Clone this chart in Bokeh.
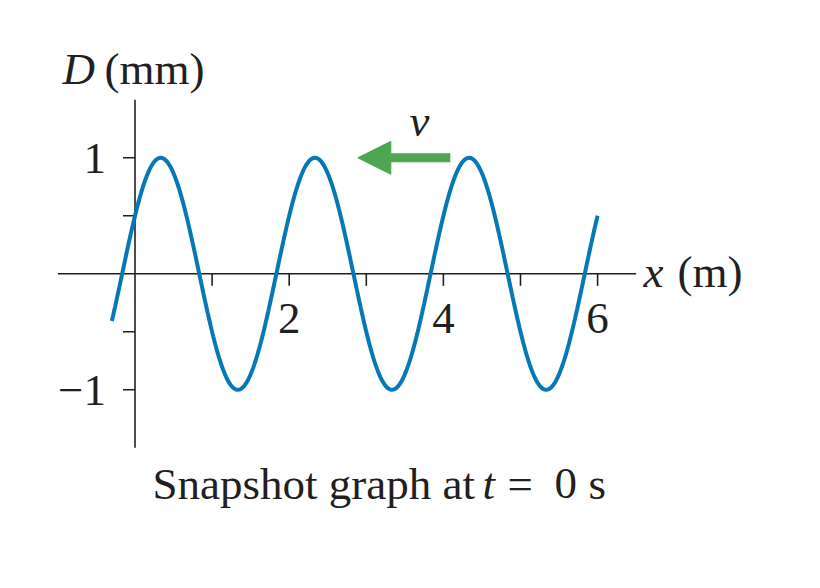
import numpy as np
from bokeh.plotting import figure
from bokeh.models import Range1d, Arrow, NormalHead
from bokeh.core.properties import value
from bokeh.embed import file_html
from bokeh.resources import INLINE

# ---- values ----
amplitude_mm = 1.0          # crests at +1, troughs at -1
wavelength_m = 2.0          # crest to crest: 0.33 -> 2.33 -> 4.33
d_at_origin_mm = 0.5        # curve rises through D = 0.5 at x = 0
x_start_m = -0.3
x_end_m = 6.0

x_ticks = [1, 2, 3, 4, 5, 6]
x_tick_labels = ["2", "4", "6"]
x_tick_label_pos = [2, 4, 6]
y_ticks = [-1, -0.5, 0.5, 1]
y_tick_labels = ["1", "\u22121"]
y_tick_label_pos = [1, -1]
x_axis_span = [-1.0, 6.5]
y_axis_span = [-1.5, 1.5]
velocity_arrow_x = [4.09, 2.89]   # tail, tip
velocity_arrow_d = 1.0

# ---- layout helpers (page pixels -> data) ----
W, H = 804, 572
ORIGIN = 0.0
X0_PX, SX = 134.5, 77.1
Y0_PX, SY = 273.3, 116.0
def px2x(px):
    return (px - X0_PX) / SX
def py2y(py):
    return (Y0_PX - py) / SY

BLUE = "#0678B5"
GREEN = "#4DA651"
INK = "#231F20"
SERIF = value("Liberation Serif")
FS = "45px"
DY = -14  # baseline correction

p = figure(width=W, height=H, output_backend="svg", toolbar_location=None,
           x_range=Range1d(px2x(ORIGIN), px2x(ORIGIN + W)),
           y_range=Range1d(py2y(ORIGIN + H), py2y(ORIGIN)),
           x_axis_location=None, y_axis_location=None, min_border=0)
p.grid.visible = False
p.outline_line_color = None
p.background_fill_color = "white"

# axes lines
p.segment(x0=[x_axis_span[0], 0], y0=[0, y_axis_span[0]],
          x1=[x_axis_span[1], 0], y1=[0, y_axis_span[1]],
          line_color=INK, line_width=1.6)
# ticks
p.ray(x=x_ticks, y=[0] * len(x_ticks), length=12, length_units="screen",
      angle=-np.pi / 2, line_color=INK, line_width=1.6)
p.ray(x=[0] * len(y_ticks), y=y_ticks, length=12, length_units="screen",
      angle=np.pi, line_color=INK, line_width=1.6)

# wave
phase = np.arcsin(d_at_origin_mm / amplitude_mm)
xs = np.linspace(x_start_m, x_end_m, 600)
ds = amplitude_mm * np.sin(2 * np.pi * xs / wavelength_m + phase)
p.line(xs, ds, line_color=BLUE, line_width=4, line_cap="butt")

# tick labels
p.text(x=x_tick_label_pos, y=[0] * 3, text=x_tick_labels, text_font=SERIF,
       text_font_size=FS, text_align="center", text_baseline="alphabetic",
       y_offset=59 + DY, text_color=INK)
p.text(x=[0, 0], y=y_tick_label_pos, text=y_tick_labels, text_font=SERIF,
       text_font_size=FS, text_align="right", text_baseline="alphabetic",
       x_offset=-29, y_offset=15 + DY, text_color=INK)

# axis titles
p.text(x=[px2x(62)], y=[py2y(82 + DY)], text=["D"], text_font=SERIF, text_font_size=FS,
       text_font_style="italic", text_align="left", text_baseline="alphabetic", text_color=INK)
p.text(x=[px2x(104)], y=[py2y(82 + DY)], text=["(mm)"], text_font=SERIF, text_font_size=FS,
       text_align="left", text_baseline="alphabetic", text_color=INK)
p.text(x=[px2x(643)], y=[py2y(285 + DY)], text=["x"], text_font=SERIF, text_font_size=FS,
       text_font_style="italic", text_align="left", text_baseline="alphabetic", text_color=INK)
p.text(x=[px2x(677)], y=[py2y(285 + DY)], text=["(m)"], text_font=SERIF, text_font_size=FS,
       text_align="left", text_baseline="alphabetic", text_color=INK)

# velocity arrow
p.add_layout(Arrow(end=NormalHead(size=33, fill_color=GREEN, line_color=GREEN, line_width=1),
                   x_start=velocity_arrow_x[0], y_start=velocity_arrow_d,
                   x_end=velocity_arrow_x[1], y_end=velocity_arrow_d,
                   line_color=GREEN, line_width=9))
p.text(x=[px2x(419)], y=[py2y(134 + DY)], text=["v"], text_font=SERIF, text_font_size=FS,
       text_font_style="italic", text_align="center", text_baseline="alphabetic", text_color=INK)

# caption
cap_y = py2y(497 + DY)
for txt, left, style in [("Snapshot graph at", 152, "normal"), ("t", 482, "italic"),
                         ("=", 507, "normal"), ("0", 554, "normal"), ("s", 588, "normal")]:
    p.text(x=[px2x(left)], y=[cap_y], text=[txt], text_font=SERIF, text_font_size=FS,
           text_font_style=style, text_align="left", text_baseline="alphabetic", text_color=INK)

open("out.html", "w").write(file_html(p, INLINE))
